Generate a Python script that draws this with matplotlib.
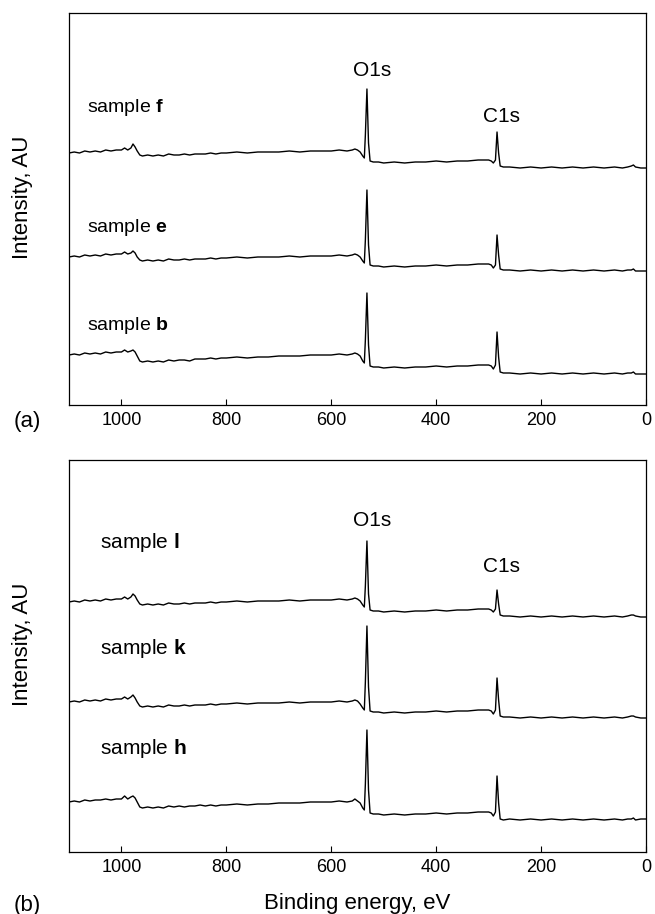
import matplotlib
matplotlib.use("Agg")
import matplotlib.pyplot as plt

plt.rcParams['font.family'] = ['Liberation Sans', 'DejaVu Sans']
plt.rcParams['mathtext.fontset'] = 'custom'
plt.rcParams['mathtext.rm'] = 'Liberation Sans'
plt.rcParams['mathtext.bf'] = 'Liberation Sans:bold'

# binding energy grid (eV), shared by all spectra
energy = [1100, 1090, 1080, 1070, 1060, 1050, 1040, 1030, 1020, 1010,
          1000, 994, 988, 982, 978, 974, 970, 965, 960, 950,
          940, 930, 920, 910, 900, 890, 880, 870, 860, 850,
          840, 830, 820, 810, 800, 780, 760, 740, 720, 700,
          680, 660, 640, 620, 600, 585, 570, 560, 555, 550,
          545, 540, 537, 535, 532, 529, 526, 520, 510, 500,
          480, 460, 440, 420, 400, 380, 360, 340, 320, 310,
          300, 295, 291, 287, 284, 281, 278, 272, 260, 240,
          220, 200, 180, 160, 140, 120, 100, 80, 60, 45,
          35, 28, 24, 20, 10, 0]

# panel (a) intensities, arbitrary units
sample_f = [252, 253, 252, 254, 253, 254, 253, 255, 254, 255,
            255, 257, 255, 257, 261, 258, 254, 250, 249, 250,
            249, 250, 249, 251, 250, 250, 251, 250, 251, 251,
            251, 252, 251, 252, 252, 253, 252, 253, 253, 253,
            254, 253, 254, 254, 254, 255, 254, 255, 256, 255,
            253, 249, 247, 270, 316, 262, 244, 243, 243, 242,
            243, 242, 243, 243, 244, 243, 244, 244, 245, 245,
            245, 244, 242, 245, 273, 252, 239, 238, 238, 237,
            238, 237, 238, 237, 238, 237, 238, 237, 238, 237,
            238, 239, 240, 238, 237, 237]
sample_e = [148, 149, 148, 150, 149, 150, 149, 151, 150, 151,
            151, 153, 151, 152, 154, 152, 148, 145, 144, 145,
            144, 145, 144, 146, 145, 145, 146, 145, 146, 146,
            146, 147, 146, 147, 147, 148, 147, 148, 148, 148,
            149, 148, 149, 149, 149, 150, 149, 150, 151, 150,
            148, 144, 142, 165, 215, 160, 140, 139, 139, 138,
            139, 138, 139, 139, 140, 139, 140, 140, 141, 141,
            141, 140, 137, 140, 170, 150, 136, 135, 135, 134,
            135, 134, 135, 134, 135, 134, 135, 134, 135, 134,
            135, 135, 136, 134, 134, 134]
sample_b = [50, 51, 50, 52, 51, 52, 51, 53, 52, 53,
            53, 55, 53, 54, 55, 53, 49, 44, 43, 44,
            43, 44, 43, 45, 44, 45, 45, 44, 46, 46,
            46, 47, 46, 47, 47, 48, 47, 48, 48, 49,
            49, 49, 50, 50, 50, 51, 50, 51, 52, 51,
            49, 44, 42, 65, 112, 60, 39, 38, 38, 37,
            38, 37, 38, 38, 39, 38, 39, 39, 40, 40,
            40, 39, 36, 40, 73, 48, 33, 32, 32, 31,
            32, 31, 32, 31, 32, 31, 32, 31, 32, 31,
            32, 32, 33, 31, 31, 31]

# panel (b) intensities
sample_l = [250, 251, 250, 252, 251, 252, 251, 253, 252, 253,
            253, 255, 253, 255, 258, 256, 252, 248, 247, 248,
            247, 248, 247, 249, 248, 248, 249, 248, 249, 249,
            249, 250, 249, 250, 250, 251, 250, 251, 251, 251,
            252, 251, 252, 252, 252, 253, 252, 253, 254, 253,
            251, 247, 245, 266, 311, 258, 242, 241, 241, 240,
            241, 240, 241, 241, 242, 241, 242, 242, 243, 243,
            243, 242, 240, 243, 262, 248, 237, 236, 236, 235,
            236, 235, 236, 235, 236, 235, 236, 235, 236, 235,
            236, 237, 237, 236, 235, 235]
sample_k = [150, 151, 150, 152, 151, 152, 151, 153, 152, 153,
            153, 155, 153, 155, 157, 154, 150, 146, 145, 146,
            145, 146, 145, 147, 146, 146, 147, 146, 147, 147,
            147, 148, 147, 148, 148, 149, 148, 149, 149, 149,
            150, 149, 150, 150, 150, 151, 150, 151, 152, 151,
            148, 144, 142, 170, 226, 165, 141, 140, 140, 139,
            140, 139, 140, 140, 141, 140, 141, 141, 142, 142,
            142, 141, 138, 142, 174, 152, 136, 135, 135, 134,
            135, 134, 135, 134, 135, 134, 135, 134, 135, 134,
            135, 136, 136, 135, 134, 134]
sample_h = [50, 51, 50, 52, 51, 52, 52, 53, 52, 53,
            53, 56, 53, 55, 56, 54, 50, 45, 44, 45,
            44, 45, 44, 46, 45, 46, 45, 46, 46, 47,
            46, 47, 46, 47, 47, 48, 47, 48, 48, 49,
            49, 49, 50, 50, 50, 51, 50, 51, 53, 51,
            49, 44, 42, 68, 122, 62, 39, 38, 38, 37,
            38, 37, 38, 38, 39, 38, 39, 39, 40, 40,
            40, 39, 36, 40, 76, 49, 33, 32, 33, 32,
            33, 32, 33, 32, 33, 32, 33, 32, 33, 32,
            33, 33, 34, 32, 33, 33]

W, H = 655, 914
fig = plt.figure(figsize=(W / 100, H / 100), dpi=100)
ax_a = fig.add_axes([69 / W, (H - 405) / H, 577 / W, 392 / H])
ax_b = fig.add_axes([69 / W, (H - 852) / H, 577 / W, 392 / H])


def setup(ax):
    ax.set_xlim(1100, 0)
    ax.set_ylim(0, 392)
    ax.set_xticks([1000, 800, 600, 400, 200, 0])
    ax.set_yticks([])
    ax.tick_params(axis='x', direction='in', length=4.5, width=0.8,
                   labelsize=13, pad=5)
    for s in ax.spines.values():
        s.set_linewidth(0.9)
    ax.set_ylabel("Intensity, AU", fontsize=16)
    ax.yaxis.set_label_coords(-0.062, 0.53)


setup(ax_a)
for y in (sample_f, sample_e, sample_b):
    ax_a.plot(energy, y, color='black', lw=1.0)
ax_a.text(522, 335, "O1s", fontsize=15, ha='center', va='center')
ax_a.text(275, 288, "C1s", fontsize=15, ha='center', va='center')
ax_a.text(1066, 298, "sample $\\mathbf{f}$", fontsize=14, va='center')
ax_a.text(1066, 178, "sample $\\mathbf{e}$", fontsize=14, va='center')
ax_a.text(1066, 80, "sample $\\mathbf{b}$", fontsize=14, va='center')

setup(ax_b)
for y in (sample_l, sample_k, sample_h):
    ax_b.plot(energy, y, color='black', lw=1.0)
ax_b.text(522, 331, "O1s", fontsize=15, ha='center', va='center')
ax_b.text(275, 286, "C1s", fontsize=15, ha='center', va='center')
ax_b.text(1040, 310, "sample $\\mathbf{l}$", fontsize=15, va='center')
ax_b.text(1040, 203, "sample $\\mathbf{k}$", fontsize=15, va='center')
ax_b.text(1040, 103, "sample $\\mathbf{h}$", fontsize=15, va='center')
ax_b.set_xlabel("Binding energy, eV", fontsize=16)
ax_b.xaxis.set_label_coords(0.5, -0.105)

fig.text(27 / W, 1 - 422 / H, "(a)", fontsize=16, ha='center', va='center')
fig.text(27 / W, 1 - 905 / H, "(b)", fontsize=16, ha='center', va='center')

fig.savefig("out.png", dpi=100)
